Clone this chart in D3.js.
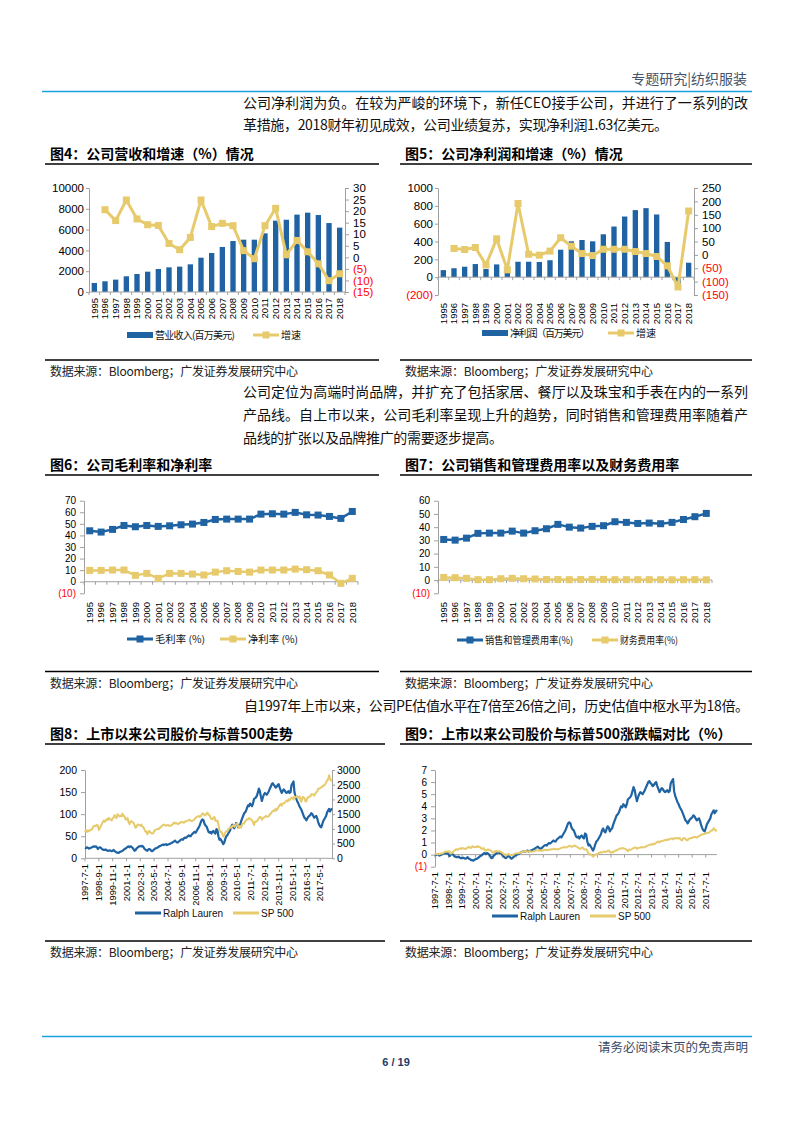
<!DOCTYPE html>
<html>
<head>
<meta charset="utf-8">
<script src="https://cdn.jsdelivr.net/npm/d3@7"></script>
<style>
  body { margin: 0; background: #fff; }
  svg { display: block; }
</style>
</head>
<body>
<svg id="page" width="793" height="1122"></svg>
<script>
// ---------- data ----------
var years = ['1995', '1996', '1997', '1998', '1999', '2000', '2001', '2002', '2003', '2004', '2005', '2006',
             '2007', '2008', '2009', '2010', '2011', '2012', '2013', '2014', '2015', '2016', '2017', '2018'];

// fig 4: revenue (USD mn) and growth (%)
var revenue = [865, 1030, 1190, 1510, 1730, 1955, 2210, 2370, 2440, 2660, 3300, 3750,
               4330, 4900, 5030, 5030, 5640, 6860, 6950, 7440, 7630, 7400, 6630, 6190];
var revenueGrowth = [null, 20.6, 15.9, 24.8, 16.6, 14.1, 13.8, 6.0, 3.3, 8.6, 24.8, 13.3,
                     14.7, 13.7, 2.9, -0.6, 13.7, 21.2, 1.1, 7.3, 2.4, -2.8, -10.1, -7.1];

// fig 5: net income (USD mn) and growth (%)
var netIncome = [79, 100, 117, 147, 92, 143, 63, 173, 173, 170, 190, 308,
                 402, 417, 402, 481, 568, 680, 752, 774, 703, 395, -71, 162];
var netIncomeGrowth = [null, 24, 20, 27.5, -37.5, 60, -56, 192, 2.5, -1, 14, 64,
                       32.5, 5, -2.5, 21, 21, 21, 12.5, 5, -6, -41, -120, 164];

// fig 6: gross / net margin (%)
var grossMargin = [44.0, 42.9, 45.2, 48.6, 47.5, 48.6, 47.8, 48.3, 49.2, 49.8, 51.2, 53.8,
                   54.1, 54.1, 54.1, 58.4, 58.7, 58.4, 59.9, 57.8, 57.6, 56.4, 54.7, 60.7];
var netMargin = [9.8, 9.8, 10.1, 10.1, 5.5, 7.2, 2.9, 7.2, 7.2, 6.6, 5.8, 8.3,
                 9.5, 8.9, 8.3, 10.1, 10.1, 10.1, 10.9, 10.4, 9.5, 5.8, -1.4, 2.9];

// fig 7: SG&A ratio and financial expense ratio (%)
var sgaRatio = [30.7, 30.2, 31.7, 35.3, 35.5, 35.5, 37.0, 35.5, 37.3, 38.8, 42.1, 40.0,
                39.3, 40.6, 41.1, 44.1, 43.6, 42.8, 43.1, 42.6, 43.6, 45.8, 47.9, 50.4];
var finRatio = [2.0, 1.8, 1.3, 0.3, 0.3, 1.0, 1.3, 1.0, 0.8, 0.4, 0.4, 0.3,
                0.4, 0.5, 0.5, 0.3, 0.3, 0.3, 0.3, 0.3, 0.2, 0.3, 0.3, 0.2];

// fig 8/9: monthly, first month 1997-7
var rlPrice = [
  24, 23, 25, 24, 22, 23,
  24, 25, 26, 27, 26, 27, 25, 21, 24, 25, 24, 21,
  20, 19, 19, 20, 18, 17, 17, 18, 17, 16, 17, 19,
  16, 15, 13, 13, 12, 14, 15, 16, 17, 19, 21, 22,
  24, 26, 27, 25, 27, 26, 24, 21, 17, 18, 22, 24,
  26, 27, 28, 27, 28, 26, 22, 20, 18, 17, 20, 21,
  20, 17, 16, 18, 20, 22, 23, 24, 25, 27, 28, 29,
  30, 31, 30, 31, 32, 30, 31, 32, 33, 34, 35, 37,
  38, 40, 38, 36, 36, 38, 40, 42, 43, 42, 45, 47,
  46, 48, 50, 52, 50, 50, 54, 56, 58, 60, 58, 62,
  66, 70, 74, 80, 86, 88, 86, 78, 74, 72, 66, 60,
  58, 60, 56, 60, 62, 58, 56, 66, 64, 50, 42, 44,
  40, 36, 32, 36, 44, 50, 52, 56, 60, 64, 72, 76,
  70, 68, 74, 80, 78, 70, 74, 76, 84, 90, 96, 102,
  104, 108, 114, 120, 118, 124, 122, 118, 124, 134, 136, 138,
  142, 150, 158, 152, 140, 130, 138, 144, 148, 146, 144, 148,
  152, 158, 162, 168, 170, 166, 164, 160, 162, 166, 168, 160,
  154, 148, 152, 156, 154, 150, 148, 150, 152, 148, 150, 166,
  170, 174, 150, 140, 134, 128, 124, 118, 114, 110, 104, 98,
  92, 90, 86, 90, 94, 96, 98, 102, 100, 96, 92, 94,
  96, 90, 82, 76, 72, 70, 76, 84, 88, 92, 96, 104,
  108, 112, 106, 110, 113
];
var spxLevel = [
  885, 954, 899, 947, 915, 955,
  970, 980, 1049, 1101, 1111, 1090, 1133, 1120, 957, 1017, 1098, 1163,
  1229, 1280, 1238, 1286, 1335, 1302, 1373, 1329, 1320, 1283, 1363, 1389,
  1469, 1394, 1366, 1499, 1452, 1421, 1455, 1431, 1518, 1437, 1429, 1315,
  1320, 1366, 1240, 1160, 1249, 1256, 1224, 1211, 1134, 1041, 1060, 1139,
  1148, 1130, 1107, 1147, 1077, 1067, 990, 912, 916, 815, 886, 936,
  880, 856, 841, 848, 917, 964, 975, 990, 1008, 996, 1051, 1058,
  1112, 1131, 1145, 1126, 1107, 1121, 1141, 1102, 1104, 1115, 1130, 1174,
  1212, 1181, 1204, 1181, 1157, 1192, 1191, 1234, 1220, 1229, 1207, 1249,
  1248, 1280, 1281, 1295, 1311, 1270, 1270, 1277, 1304, 1336, 1378, 1401,
  1418, 1438, 1407, 1421, 1482, 1531, 1503, 1455, 1474, 1527, 1549, 1481,
  1468, 1379, 1331, 1323, 1386, 1400, 1280, 1267, 1283, 1166, 969, 896,
  903, 826, 735, 798, 873, 919, 919, 987, 1021, 1057, 1036, 1096,
  1115, 1074, 1104, 1169, 1187, 1089, 1031, 1102, 1049, 1141, 1183, 1181,
  1258, 1286, 1327, 1326, 1364, 1345, 1321, 1292, 1219, 1131, 1253, 1247,
  1258, 1312, 1366, 1408, 1398, 1310, 1362, 1379, 1407, 1441, 1412, 1416,
  1426, 1498, 1515, 1569, 1598, 1631, 1606, 1686, 1633, 1682, 1757, 1806,
  1848, 1783, 1859, 1872, 1884, 1924, 1960, 1931, 2003, 1972, 2018, 2068,
  2059, 1995, 2105, 2068, 2086, 2107, 2063, 2104, 1972, 1920, 2079, 2080,
  2044, 1940, 1932, 2060, 2065, 2097, 2099, 2174, 2171, 2168, 2126, 2199,
  2239, 2279, 2364, 2363, 2384, 2412, 2423, 2470, 2472, 2519, 2575, 2648,
  2674, 2824, 2714, 2641, 2648
];
var priceTicks = ['1997-7-1', '1998-9-1', '1999-11-1', '2001-1-1', '2002-3-1', '2003-5-1',
                  '2004-7-1', '2005-9-1', '2006-11-1', '2008-1-1', '2009-3-1', '2010-5-1',
                  '2011-7-1', '2012-9-1', '2013-11-1', '2015-1-1', '2016-3-1', '2017-5-1'];
var returnTicks = ['1997-7-1', '1998-7-1', '1999-7-1', '2000-7-1', '2001-7-1', '2002-7-1', '2003-7-1',
                   '2004-7-1', '2005-7-1', '2006-7-1', '2007-7-1', '2008-7-1', '2009-7-1', '2010-7-1',
                   '2011-7-1', '2012-7-1', '2013-7-1', '2014-7-1', '2015-7-1', '2016-7-1', '2017-7-1'];

// ---------- styling ----------
var BLUE = '#1f63a3', GOLD = '#e6ca6c', RED = '#ff0000', AXIS = '#a0a0a0',
    LATIN = '"Liberation Sans", "Noto Sans CJK SC", sans-serif',
    CJK = '"Noto Sans CJK SC", sans-serif',
    svg = d3.select('#page');

var fmtParen = v => (v < 0) ? '(' + (-v) + ')' : String(v);
var parseDay = s => { var p = s.split('-').map(Number); return new Date(p[0], p[1] - 1, p[2]); };
var months = rlPrice.map((d, i) => new Date(1997, 6 + i, 1));

function text(x, y, str, o) {
  o = o || {};
  var t = svg.append('text')
    .attr('x', x).attr('y', y)
    .attr('font-family', o.family || CJK)
    .attr('font-size', o.size || 14)
    .attr('fill', o.fill || '#111')
    .text(str);
  if (o.anchor) t.attr('text-anchor', o.anchor);
  if (o.weight) t.attr('font-weight', o.weight);
  if (o.width) t.attr('textLength', o.width).attr('lengthAdjust', o.adjust || 'spacing');
  return t;
}

function hline(x0, x1, y, color, w) {
  svg.append('line').attr('x1', x0).attr('x2', x1).attr('y1', y).attr('y2', y)
    .attr('stroke', color).attr('stroke-width', w);
}

function frame(x0, x1, titleY, title, srcY) {
  // bold title, black rule underneath, source note at the bottom
  text(x0 + 5, titleY, title, {size: 14, weight: 'bold', fill: '#000'});
  hline(x0, x1, titleY + 5, '#000', 1.3);
  hline(x0, x1, srcY, '#000', 1.3);
  text(x0 + 5, srcY + 16, '数据来源：Bloomberg；广发证券发展研究中心', {size: 12, width: 248, fill: '#222'});
}

function styleAxis(g, size) {
  g.attr('font-family', LATIN).attr('font-size', size).attr('color', AXIS);
  g.selectAll('.tick text').attr('fill', d => (d < 0) ? RED : '#000');
}

function yearLabels(g, x, top, size) {
  g.append('g').selectAll('text').data(years).join('text')
    .attr('transform', d => `translate(${x(d) + x.bandwidth() / 2},${top}) rotate(-90)`)
    .attr('text-anchor', 'end').attr('dy', '0.35em')
    .attr('font-family', LATIN).attr('font-size', size)
    .text(d => d);
}

function categoryAxis(g, x, y0) {
  // x axis line with small ticks between categories
  g.append('line').attr('x1', x.range()[0]).attr('x2', x.range()[1])
    .attr('y1', y0).attr('y2', y0).attr('stroke', AXIS);
  g.append('g').selectAll('line').data(years.concat(['end'])).join('line')
    .attr('x1', (d, i) => x.range()[0] + i * x.step())
    .attr('x2', (d, i) => x.range()[0] + i * x.step())
    .attr('y1', y0).attr('y2', y0 + 3).attr('stroke', AXIS);
}

function markerLine(g, values, xf, yf, color, width, size) {
  var line = d3.line().defined(d => d != null).x((d, i) => xf(i)).y(d => yf(d));
  g.append('path').datum(values).attr('d', line)
    .attr('fill', 'none').attr('stroke', color).attr('stroke-width', width)
    .attr('stroke-linejoin', 'round');
  g.append('g').selectAll('rect').data(values.map((v, i) => [i, v]).filter(d => d[1] != null)).join('rect')
    .attr('x', d => xf(d[0]) - size / 2).attr('y', d => yf(d[1]) - size / 2)
    .attr('width', size).attr('height', size).attr('fill', color);
}

function legendLine(x, y, label, color, labelWidth, marker, family) {
  hline(x, x + 26, y, color, 3);
  if (marker) {
    svg.append('rect').attr('x', x + 13 - 3.5).attr('y', y - 3.5)
      .attr('width', 7).attr('height', 7).attr('fill', color);
  }
  var t = text(x + 28, y + 3.5, label, {size: 10, family: family || CJK, fill: '#111'});
  if (labelWidth) t.attr('textLength', labelWidth).attr('lengthAdjust', 'spacingAndGlyphs');
}

function legendBar(x, y, label, labelWidth) {
  svg.append('rect').attr('x', x).attr('y', y - 3).attr('width', 26).attr('height', 6).attr('fill', BLUE);
  text(x + 28, y + 3.5, label, {size: 10, width: labelWidth, fill: '#111'});
}

// ---------- bar + growth line (fig 4, fig 5) ----------
function comboChart(c) {
  var g = svg.append('g'),
      x = d3.scaleBand().domain(years).range([c.x0, c.x1]).paddingInner(0.5).paddingOuter(0.25),
      yL = d3.scaleLinear().domain(c.leftDomain).range([c.bottom, c.top]),
      yR = d3.scaleLinear().domain(c.rightDomain).range([c.bottom, c.top]),
      cx = i => x(years[i]) + x.bandwidth() / 2;

  g.append('g').selectAll('rect').data(c.bars).join('rect')
    .attr('x', (d, i) => x(years[i]))
    .attr('y', d => Math.min(yL(d), yL(0)))
    .attr('width', x.bandwidth())
    .attr('height', d => Math.abs(yL(d) - yL(0)))
    .attr('fill', BLUE);

  g.append('g').attr('transform', `translate(${c.x0},0)`)
    .call(d3.axisLeft(yL).tickValues(c.leftTicks).tickFormat(fmtParen).tickSize(3).tickPadding(2).tickSizeOuter(0))
    .call(styleAxis, 11.5);
  g.append('g').attr('transform', `translate(${c.x1},0)`)
    .call(d3.axisRight(yR).tickValues(c.rightTicks).tickFormat(fmtParen).tickSize(4).tickPadding(4).tickSizeOuter(0))
    .call(styleAxis, 11.5);
  categoryAxis(g, x, yL(0));
  yearLabels(g, x, c.labelTop, 9.5);

  markerLine(g, c.growth, cx, yR, GOLD, 3, 7);

  legendBar(c.legendX, c.legendY, c.barLabel, 80);
  legendLine(c.legendX + 126, c.legendY, '增速', GOLD, null, true);
}

// ---------- two marker lines (fig 6, fig 7) ----------
function ratioChart(c) {
  var g = svg.append('g'),
      x = d3.scaleBand().domain(years).range([c.x0, c.x1]),
      y = d3.scaleLinear().domain(c.domain).range([c.bottom, c.top]),
      cx = i => x(years[i]) + x.bandwidth() / 2;

  g.append('g').attr('transform', `translate(${c.x0},0)`)
    .call(d3.axisLeft(y).tickValues(c.ticks).tickFormat(fmtParen).tickSize(4).tickPadding(4).tickSizeOuter(0))
    .call(styleAxis, 10);
  categoryAxis(g, x, y(0));
  yearLabels(g, x, c.labelTop, 9.5);

  c.series.forEach(function (s) {
    markerLine(g, s.values, cx, y, s.color, 2.5, 7);
  });
  c.series.forEach(function (s) {
    legendLine(s.legendX, c.legendY, s.label, s.color, s.labelWidth, true);
  });
}

// ---------- monthly time series (fig 8, fig 9) ----------
function timeChart(c) {
  var g = svg.append('g'),
      x = d3.scaleTime().domain([months[0], months[months.length - 1]]).range([c.x0, c.x1]),
      yL = d3.scaleLinear().domain(c.leftDomain).range([c.bottom, c.top]),
      tickDates = c.ticks.map(parseDay);

  g.append('g').attr('transform', `translate(${c.x0},0)`)
    .call(d3.axisLeft(yL).tickValues(c.leftTicks).tickFormat(fmtParen).tickSize(4).tickPadding(4).tickSizeOuter(0))
    .call(styleAxis, c.tickSize);
  if (c.rightDomain) {
    var yR = d3.scaleLinear().domain(c.rightDomain).range([c.bottom, c.top]);
    g.append('g').attr('transform', `translate(${c.x1},0)`)
      .call(d3.axisRight(yR).tickValues(c.rightTicks).tickFormat(fmtParen).tickSize(3).tickPadding(2).tickSizeOuter(0))
      .call(styleAxis, c.tickSize);
  }
  var y0 = yL(0);
  g.append('line').attr('x1', c.x0).attr('x2', c.x1).attr('y1', y0).attr('y2', y0).attr('stroke', AXIS);
  g.append('g').selectAll('line').data(tickDates).join('line')
    .attr('x1', d => x(d)).attr('x2', d => x(d)).attr('y1', y0).attr('y2', y0 + 3).attr('stroke', AXIS);
  g.append('g').selectAll('text').data(c.ticks).join('text')
    .attr('transform', (d, i) => `translate(${x(tickDates[i])},${c.labelTop}) rotate(-90)`)
    .attr('text-anchor', 'end').attr('dy', '0.35em')
    .attr('font-family', LATIN).attr('font-size', 9.3)
    .text(d => d);

  c.series.forEach(function (s) {
    var ys = s.right ? yR : yL;
    g.append('path').datum(s.values)
      .attr('d', d3.line().x((d, i) => x(months[i])).y(d => ys(d)))
      .attr('fill', 'none').attr('stroke', s.color).attr('stroke-width', s.width)
      .attr('stroke-linejoin', 'round');
  });
  legendLine(c.legendX, c.legendY, 'Ralph Lauren', BLUE, null, false, LATIN);
  legendLine(c.legendX + 98, c.legendY, 'SP 500', GOLD, null, false, LATIN);
}

// ---------- page furniture ----------
text(747, 84, '专题研究|纺织服装', {size: 14, anchor: 'end', fill: '#44546a'});
hline(42, 752, 91.5, '#1ba1e2', 1.5);

text(243, 108, '公司净利润为负。在较为严峻的环境下，新任CEO接手公司，并进行了一系列的改', {width: 505});
text(243, 130, '革措施，2018财年初见成效，公司业绩复苏，实现净利润1.63亿美元。', {width: 425});

frame(45, 379, 159, '图4：公司营收和增速（%）情况', 360);
frame(400, 752, 159, '图5：公司净利润和增速（%）情况', 360);

text(243, 397, '公司定位为高端时尚品牌，并扩充了包括家居、餐厅以及珠宝和手表在内的一系列', {width: 505});
text(243, 420, '产品线。自上市以来，公司毛利率呈现上升的趋势，同时销售和管理费用率随着产', {width: 505});
text(243, 443, '品线的扩张以及品牌推广的需要逐步提高。', {width: 260});

frame(45, 379, 470, '图6：公司毛利率和净利率', 671.5);
frame(400, 752, 470, '图7：公司销售和管理费用率以及财务费用率', 671.5);

text(244, 711, '自1997年上市以来，公司PE估值水平在7倍至26倍之间，历史估值中枢水平为18倍。', {width: 505});

frame(45, 385, 739, '图8：上市以来公司股价与标普500走势', 941);
frame(400, 752, 739, '图9：上市以来公司股价与标普500涨跌幅对比（%）', 941);

hline(42, 752, 1036.5, '#1ba1e2', 1.5);
text(748, 1052, '请务必阅读末页的免责声明', {size: 12.5, anchor: 'end', fill: '#3a4a63'});
text(396, 1066, '6 / 19', {size: 11, anchor: 'middle', weight: 'bold', family: LATIN, fill: '#1f3a68'});

// ---------- charts ----------
comboChart({
  x0: 89, x1: 345, top: 188, bottom: 292,
  leftDomain: [0, 10000], leftTicks: [0, 2000, 4000, 6000, 8000, 10000],
  rightDomain: [-15, 30], rightTicks: [-15, -10, -5, 0, 5, 10, 15, 20, 25, 30],
  bars: revenue, growth: revenueGrowth, labelTop: 298,
  legendX: 127, legendY: 335, barLabel: '营业收入(百万美元)'
});
comboChart({
  x0: 438, x1: 694, top: 188, bottom: 295,
  leftDomain: [-200, 1000], leftTicks: [-200, 0, 200, 400, 600, 800, 1000],
  rightDomain: [-150, 250], rightTicks: [-150, -100, -50, 0, 50, 100, 150, 200, 250],
  bars: netIncome, growth: netIncomeGrowth, labelTop: 303,
  legendX: 482, legendY: 333, barLabel: '净利润（百万美元）'
});

ratioChart({
  x0: 84, x1: 358, top: 500.7, bottom: 593.3, domain: [-10, 70],
  ticks: [-10, 0, 10, 20, 30, 40, 50, 60, 70], labelTop: 602, legendY: 639,
  series: [
    {values: grossMargin, color: BLUE, label: '毛利率 (%)', legendX: 127, labelWidth: 50},
    {values: netMargin, color: GOLD, label: '净利率 (%)', legendX: 220, labelWidth: 50}
  ]
});
ratioChart({
  x0: 438, x1: 712, top: 500.7, bottom: 593.3, domain: [-10, 60],
  ticks: [-10, 0, 10, 20, 30, 40, 50, 60], labelTop: 602, legendY: 640,
  series: [
    {values: sgaRatio, color: BLUE, label: '销售和管理费用率(%)', legendX: 457, labelWidth: 88},
    {values: finRatio, color: GOLD, label: '财务费用率(%)', legendX: 592, labelWidth: 58}
  ]
});

timeChart({
  x0: 85, x1: 332, top: 770, bottom: 858.3, tickSize: 10.5,
  leftDomain: [0, 200], leftTicks: [0, 50, 100, 150, 200],
  rightDomain: [0, 3000], rightTicks: [0, 500, 1000, 1500, 2000, 2500, 3000],
  ticks: priceTicks, labelTop: 864, legendX: 135, legendY: 913,
  series: [
    {values: rlPrice, color: BLUE, width: 2.2},
    {values: spxLevel, color: GOLD, width: 2, right: true}
  ]
});
timeChart({
  x0: 435, x1: 717, top: 770, bottom: 866.7, tickSize: 10,
  leftDomain: [-1, 7], leftTicks: [-1, 0, 1, 2, 3, 4, 5, 6, 7],
  ticks: returnTicks, labelTop: 872, legendX: 492, legendY: 916,
  series: [
    {values: rlPrice.map(v => v / rlPrice[0] - 1), color: BLUE, width: 2.2},
    {values: spxLevel.map(v => v / spxLevel[0] - 1), color: GOLD, width: 2}
  ]
});
</script>
</body>
</html>
